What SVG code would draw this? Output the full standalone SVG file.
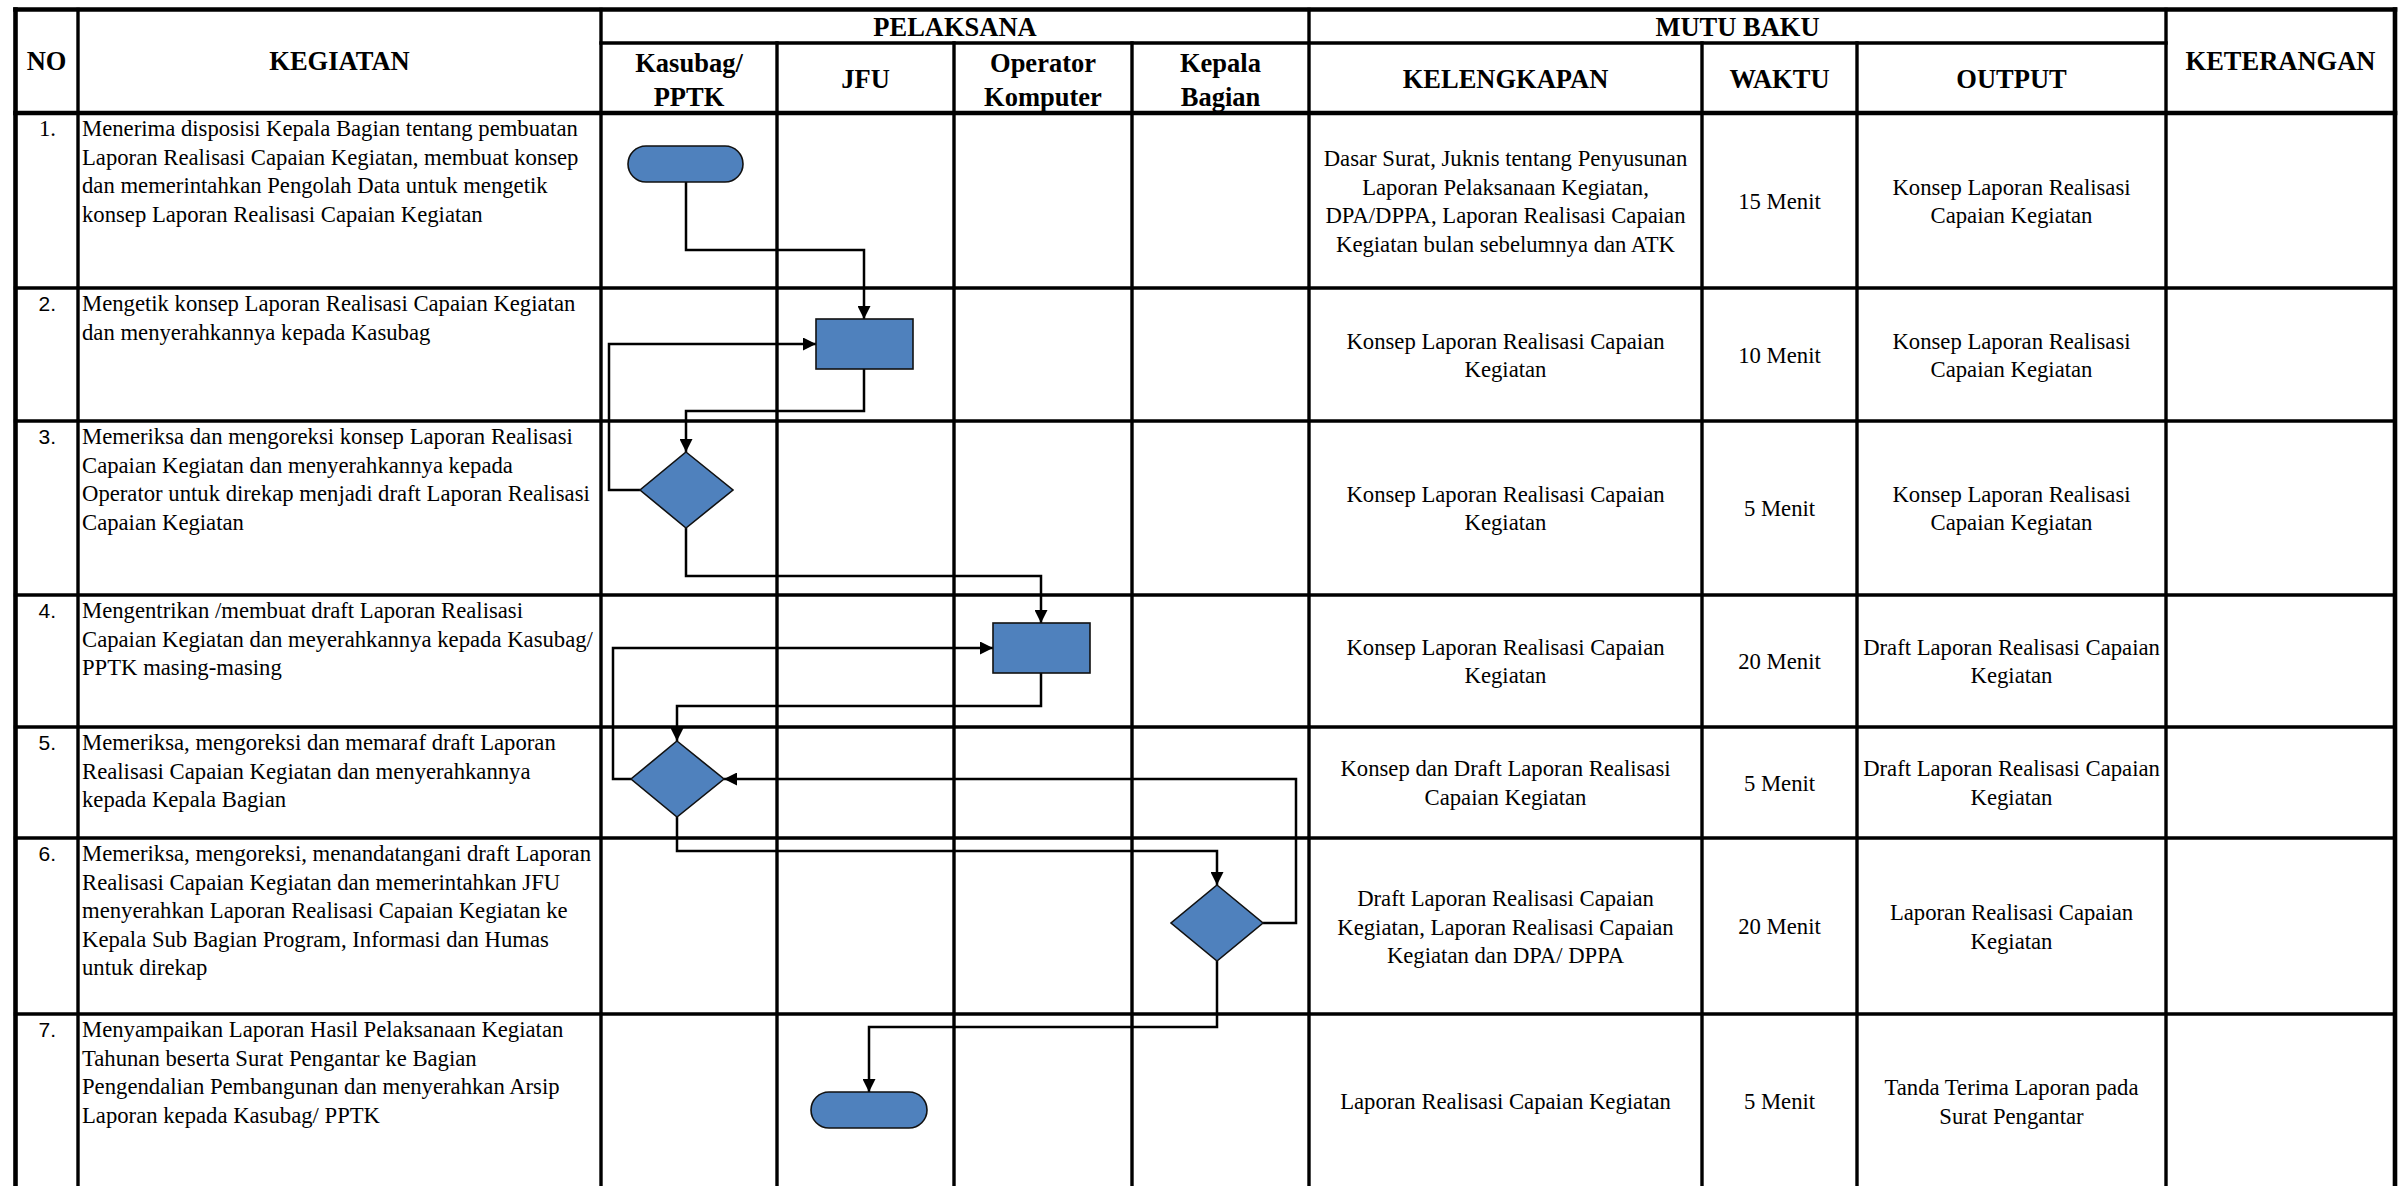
<svg xmlns="http://www.w3.org/2000/svg" width="2398" height="1186" viewBox="0 0 2398 1186">
<style>
.g{stroke:#000;stroke-width:3.4;fill:none;stroke-linecap:square}
.gt{stroke:#000;stroke-width:4.6;fill:none;stroke-linecap:square}
.h{font-family:"Liberation Serif","Times New Roman",serif;font-weight:bold;font-size:26.5px;text-anchor:middle;fill:#000}
.b{font-family:"Liberation Serif","Times New Roman",serif;font-size:22.7px;fill:#000}
.c{font-family:"Liberation Serif","Times New Roman",serif;font-size:22.7px;text-anchor:middle;fill:#000}
.n{font-family:"Liberation Sans",Arial,sans-serif;font-size:21px;text-anchor:end;fill:#000}
.shape{fill:#4F81BD;stroke:#111;stroke-width:1.6}
.con{fill:none;stroke:#000;stroke-width:2.5;stroke-linejoin:miter}
</style>
<defs>
<marker id="arr" markerUnits="userSpaceOnUse" markerWidth="13" markerHeight="13" refX="13" refY="6.5" orient="auto">
<path d="M0,0 L13,6.5 L0,13 z" fill="#000"/>
</marker>
</defs>
<rect x="0" y="0" width="2398" height="1186" fill="#fff"/>

<g id="grid">
<line class="gt" x1="15.5" y1="9.5" x2="2395" y2="9.5"/>
<line class="gt" x1="15.5" y1="9.5" x2="15.5" y2="1186"/>
<line class="gt" x1="2395" y1="9.5" x2="2395" y2="1186"/>
<line class="g" x1="601" y1="43" x2="2166" y2="43"/>
<line class="gt" x1="15.5" y1="113" x2="2395" y2="113"/>
<line class="g" x1="15.5" y1="288" x2="2395" y2="288"/>
<line class="g" x1="15.5" y1="421" x2="2395" y2="421"/>
<line class="g" x1="15.5" y1="595" x2="2395" y2="595"/>
<line class="g" x1="15.5" y1="727" x2="2395" y2="727"/>
<line class="g" x1="15.5" y1="838" x2="2395" y2="838"/>
<line class="g" x1="15.5" y1="1014" x2="2395" y2="1014"/>
<line class="g" x1="78" y1="9.5" x2="78" y2="1186"/>
<line class="g" x1="601" y1="9.5" x2="601" y2="1186"/>
<line class="g" x1="777" y1="43" x2="777" y2="1186"/>
<line class="g" x1="954" y1="43" x2="954" y2="1186"/>
<line class="g" x1="1132" y1="43" x2="1132" y2="1186"/>
<line class="g" x1="1309" y1="9.5" x2="1309" y2="1186"/>
<line class="g" x1="1702" y1="43" x2="1702" y2="1186"/>
<line class="g" x1="1857" y1="43" x2="1857" y2="1186"/>
<line class="g" x1="2166" y1="9.5" x2="2166" y2="1186"/>
</g>

<g id="header">
<text class="h" x="46.5" y="70">NO</text>
<text class="h" x="339.5" y="70">KEGIATAN</text>
<text class="h" x="955" y="36">PELAKSANA</text>
<text class="h" x="1737.5" y="36">MUTU BAKU</text>
<text class="h" x="2280.5" y="70">KETERANGAN</text>
<text class="h" x="689" y="72">Kasubag/<tspan x="689" y="106">PPTK</tspan></text>
<text class="h" x="865.5" y="88">JFU</text>
<text class="h" x="1043" y="72">Operator<tspan x="1043" y="106">Komputer</tspan></text>
<text class="h" x="1220.5" y="72">Kepala<tspan x="1220.5" y="106">Bagian</tspan></text>
<text class="h" x="1505.5" y="88">KELENGKAPAN</text>
<text class="h" x="1779.5" y="88">WAKTU</text>
<text class="h" x="2011.5" y="88">OUTPUT</text>
</g>

<g id="row1">
<text class="b" x="56" y="136" text-anchor="end">1.</text>
<text class="b" x="82" y="136">Menerima disposisi Kepala Bagian tentang pembuatan<tspan x="82" dy="28.6">Laporan Realisasi Capaian Kegiatan, membuat konsep</tspan><tspan x="82" dy="28.6">dan memerintahkan Pengolah Data untuk mengetik</tspan><tspan x="82" dy="28.6">konsep Laporan Realisasi Capaian Kegiatan</tspan></text>
<text class="c" x="1505.5" y="166">Dasar Surat, Juknis tentang Penyusunan<tspan x="1505.5" dy="28.6">Laporan Pelaksanaan Kegiatan,</tspan><tspan x="1505.5" dy="28.6">DPA/DPPA, Laporan Realisasi Capaian</tspan><tspan x="1505.5" dy="28.6">Kegiatan bulan sebelumnya dan ATK</tspan></text>
<text class="c" x="1779.5" y="208.5">15 Menit</text>
<text class="c" x="2011.5" y="194.5">Konsep Laporan Realisasi<tspan x="2011.5" dy="28.6">Capaian Kegiatan</tspan></text>
</g>

<g id="row2">
<text class="n" x="56" y="311">2.</text>
<text class="b" x="82" y="311">Mengetik konsep Laporan Realisasi Capaian Kegiatan<tspan x="82" dy="28.6">dan menyerahkannya kepada Kasubag</tspan></text>
<text class="c" x="1505.5" y="348.5">Konsep Laporan Realisasi Capaian<tspan x="1505.5" dy="28.6">Kegiatan</tspan></text>
<text class="c" x="1779.5" y="362.5">10 Menit</text>
<text class="c" x="2011.5" y="348.5">Konsep Laporan Realisasi<tspan x="2011.5" dy="28.6">Capaian Kegiatan</tspan></text>
</g>

<g id="row3">
<text class="n" x="56" y="444">3.</text>
<text class="b" x="82" y="444">Memeriksa dan mengoreksi konsep Laporan Realisasi<tspan x="82" dy="28.6">Capaian Kegiatan dan menyerahkannya kepada</tspan><tspan x="82" dy="28.6">Operator untuk direkap menjadi draft Laporan Realisasi</tspan><tspan x="82" dy="28.6">Capaian Kegiatan</tspan></text>
<text class="c" x="1505.5" y="501.5">Konsep Laporan Realisasi Capaian<tspan x="1505.5" dy="28.6">Kegiatan</tspan></text>
<text class="c" x="1779.5" y="516">5 Menit</text>
<text class="c" x="2011.5" y="501.5">Konsep Laporan Realisasi<tspan x="2011.5" dy="28.6">Capaian Kegiatan</tspan></text>
</g>

<g id="row4">
<text class="n" x="56" y="618">4.</text>
<text class="b" x="82" y="618">Mengentrikan /membuat draft Laporan Realisasi<tspan x="82" dy="28.6">Capaian Kegiatan dan meyerahkannya kepada Kasubag/</tspan><tspan x="82" dy="28.6">PPTK masing-masing</tspan></text>
<text class="c" x="1505.5" y="654.5">Konsep Laporan Realisasi Capaian<tspan x="1505.5" dy="28.6">Kegiatan</tspan></text>
<text class="c" x="1779.5" y="669">20 Menit</text>
<text class="c" x="2011.5" y="654.5">Draft Laporan Realisasi Capaian<tspan x="2011.5" dy="28.6">Kegiatan</tspan></text>
</g>

<g id="row5">
<text class="n" x="56" y="750">5.</text>
<text class="b" x="82" y="750">Memeriksa, mengoreksi dan memaraf draft Laporan<tspan x="82" dy="28.6">Realisasi Capaian Kegiatan dan menyerahkannya</tspan><tspan x="82" dy="28.6">kepada Kepala Bagian</tspan></text>
<text class="c" x="1505.5" y="776">Konsep dan Draft Laporan Realisasi<tspan x="1505.5" dy="28.6">Capaian Kegiatan</tspan></text>
<text class="c" x="1779.5" y="790.5">5 Menit</text>
<text class="c" x="2011.5" y="776">Draft Laporan Realisasi Capaian<tspan x="2011.5" dy="28.6">Kegiatan</tspan></text>
</g>

<g id="row6">
<text class="n" x="56" y="861">6.</text>
<text class="b" x="82" y="861">Memeriksa, mengoreksi, menandatangani draft Laporan<tspan x="82" dy="28.6">Realisasi Capaian Kegiatan dan memerintahkan JFU</tspan><tspan x="82" dy="28.6">menyerahkan Laporan Realisasi Capaian Kegiatan ke</tspan><tspan x="82" dy="28.6">Kepala Sub Bagian Program, Informasi dan Humas</tspan><tspan x="82" dy="28.6">untuk direkap</tspan></text>
<text class="c" x="1505.5" y="906">Draft Laporan Realisasi Capaian<tspan x="1505.5" dy="28.6">Kegiatan, Laporan Realisasi Capaian</tspan><tspan x="1505.5" dy="28.6">Kegiatan dan DPA/ DPPA</tspan></text>
<text class="c" x="1779.5" y="934">20 Menit</text>
<text class="c" x="2011.5" y="920">Laporan Realisasi Capaian<tspan x="2011.5" dy="28.6">Kegiatan</tspan></text>
</g>

<g id="row7">
<text class="n" x="56" y="1037">7.</text>
<text class="b" x="82" y="1037">Menyampaikan Laporan Hasil Pelaksanaan Kegiatan<tspan x="82" dy="28.6">Tahunan beserta Surat Pengantar ke Bagian</tspan><tspan x="82" dy="28.6">Pengendalian Pembangunan dan menyerahkan Arsip</tspan><tspan x="82" dy="28.6">Laporan kepada Kasubag/ PPTK</tspan></text>
<text class="c" x="1505.5" y="1109">Laporan Realisasi Capaian Kegiatan</text>
<text class="c" x="1779.5" y="1109">5 Menit</text>
<text class="c" x="2011.5" y="1095">Tanda Terima Laporan pada<tspan x="2011.5" dy="28.6">Surat Pengantar</tspan></text>
</g>

<g id="connectors">
<path class="con" d="M686,182 V250 H864 V319" marker-end="url(#arr)"/>
<path class="con" d="M864,369 V411 H686 V452" marker-end="url(#arr)"/>
<path class="con" d="M640,490 H609 V344 H816" marker-end="url(#arr)"/>
<path class="con" d="M686,528 V576 H1041 V623" marker-end="url(#arr)"/>
<path class="con" d="M1041,673 V706 H677 V741" marker-end="url(#arr)"/>
<path class="con" d="M631,779 H613 V648 H993" marker-end="url(#arr)"/>
<path class="con" d="M677,817 V851 H1217 V885" marker-end="url(#arr)"/>
<path class="con" d="M1263,923 H1296 V779 H724" marker-end="url(#arr)"/>
<path class="con" d="M1217,961 V1027 H869 V1092" marker-end="url(#arr)"/>
</g>

<g id="start">
<rect class="shape" x="628" y="146" width="115" height="36" rx="18" ry="18"/>
</g>
<g id="jfu-ketik">
<rect class="shape" x="816" y="319" width="97" height="50"/>
</g>
<g id="kasubag-periksa">
<polygon class="shape" points="686,452 733,490 686,528 640,490"/>
</g>
<g id="operator-entri">
<rect class="shape" x="993" y="623" width="97" height="50"/>
</g>
<g id="kasubag-paraf">
<polygon class="shape" points="677,741 724,779 677,817 631,779"/>
</g>
<g id="kabag-tandatangan">
<polygon class="shape" points="1217,885 1263,923 1217,961 1171,923"/>
</g>
<g id="end">
<rect class="shape" x="811" y="1092" width="116" height="36" rx="18" ry="18"/>
</g>
</svg>
